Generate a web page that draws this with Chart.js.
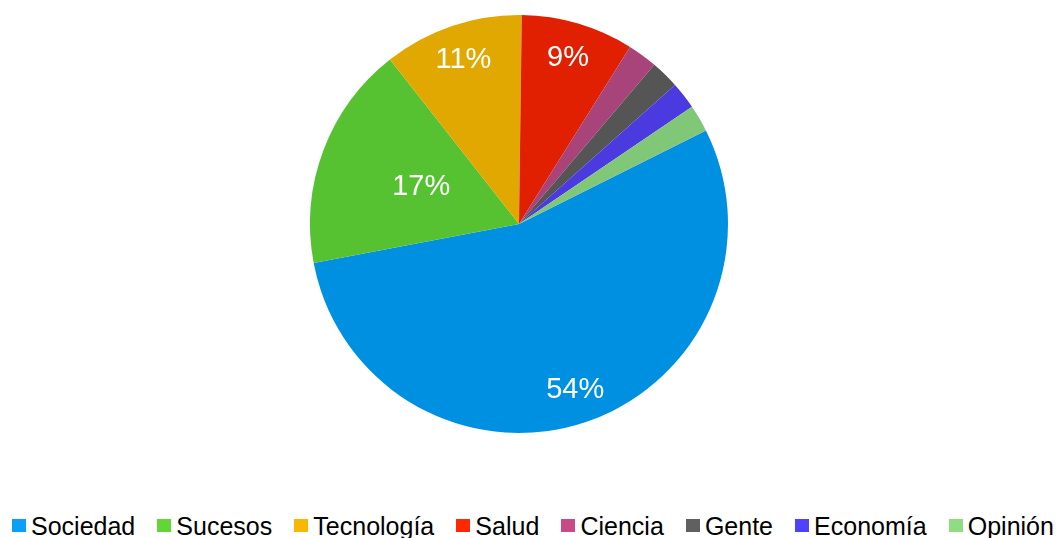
<!DOCTYPE html>
<html>
<head>
<meta charset="utf-8">
<script src="https://cdn.jsdelivr.net/npm/chart.js@4.4.0/dist/chart.umd.min.js"></script>
<style>
  html, body { margin: 0; padding: 0; background: #fff; overflow: hidden; }
  #wrap { position: relative; width: 1063px; height: 538px; }
  #chart { position: absolute; left: 0; top: 0; }
  #legend {
    position: absolute; left: 12px; top: 514px; width: 1042px;
    display: flex; justify-content: space-between;
    font-family: "Liberation Sans", Arial, sans-serif; font-size: 25px; line-height: 25px;
    color: #000; white-space: nowrap;
  }
  .item { display: inline-flex; align-items: center; }
  .box { width: 14px; height: 13px; margin-right: 5px; margin-top: -2px; }
</style>
</head>
<body>
<div id="wrap">
  <canvas id="chart"></canvas>
  <div id="legend"></div>
</div>
<script>
const categories = ["Sociedad", "Sucesos", "Tecnología", "Salud", "Ciencia", "Gente", "Economía", "Opinión"];
const shares = [54.4, 17.4, 10.8, 8.7, 2.3, 2.2, 2.1, 2.1];
const sliceColors = ["#0090e2", "#56c232", "#e0a800", "#e02000", "#a8447a", "#555555", "#4b3ae0", "#80c878"];
const legendColors = ["#0aa0f8", "#62d634", "#f8b800", "#ff2800", "#c84b88", "#606060", "#5040ff", "#90dc80"];

const canvas = document.getElementById("chart");
canvas.width = 1063;
canvas.height = 440;
canvas.style.width = "1063px";
canvas.style.height = "440px";

// percent labels inside the slices, Excel "best fit" style
const sliceLabels = {
  id: "sliceLabels",
  afterDatasetsDraw(chart, args, opts) {
    const ctx = chart.ctx;
    const meta = chart.getDatasetMeta(0);
    const data = chart.data.datasets[0].data;
    const total = data.reduce((a, b) => a + b, 0);
    ctx.save();
    ctx.fillStyle = "#fff";
    ctx.font = "29px 'Liberation Sans', Arial, sans-serif";
    ctx.textAlign = "center";
    ctx.textBaseline = "middle";
    meta.data.forEach((arc, i) => {
      const pct = Math.round(data[i] / total * 100);
      if (pct < 5) return;
      const mid = (arc.startAngle + arc.endAngle) / 2;
      const r = arc.outerRadius * (opts.radius[i] || 0.8);
      ctx.fillText(pct + "%", arc.x + Math.cos(mid) * r, arc.y + Math.sin(mid) * r);
    });
    ctx.restore();
  }
};

new Chart(canvas, {
  type: "pie",
  data: {
    labels: categories,
    datasets: [{
      data: shares,
      backgroundColor: sliceColors,
      borderWidth: 0
    }]
  },
  options: {
    responsive: false,
    animation: false,
    rotation: 63.4,
    layout: { padding: { top: 15, bottom: 7, left: 0, right: 25 } },
    plugins: {
      legend: { display: false },
      tooltip: { enabled: false },
      sliceLabels: { radius: [0.84, 0.5, 0.83, 0.83] }
    }
  },
  plugins: [sliceLabels]
});

const legend = document.getElementById("legend");
categories.forEach((name, i) => {
  const item = document.createElement("span");
  item.className = "item";
  const box = document.createElement("span");
  box.className = "box";
  box.style.background = legendColors[i];
  item.appendChild(box);
  item.appendChild(document.createTextNode(name));
  legend.appendChild(item);
});
</script>
</body>
</html>
